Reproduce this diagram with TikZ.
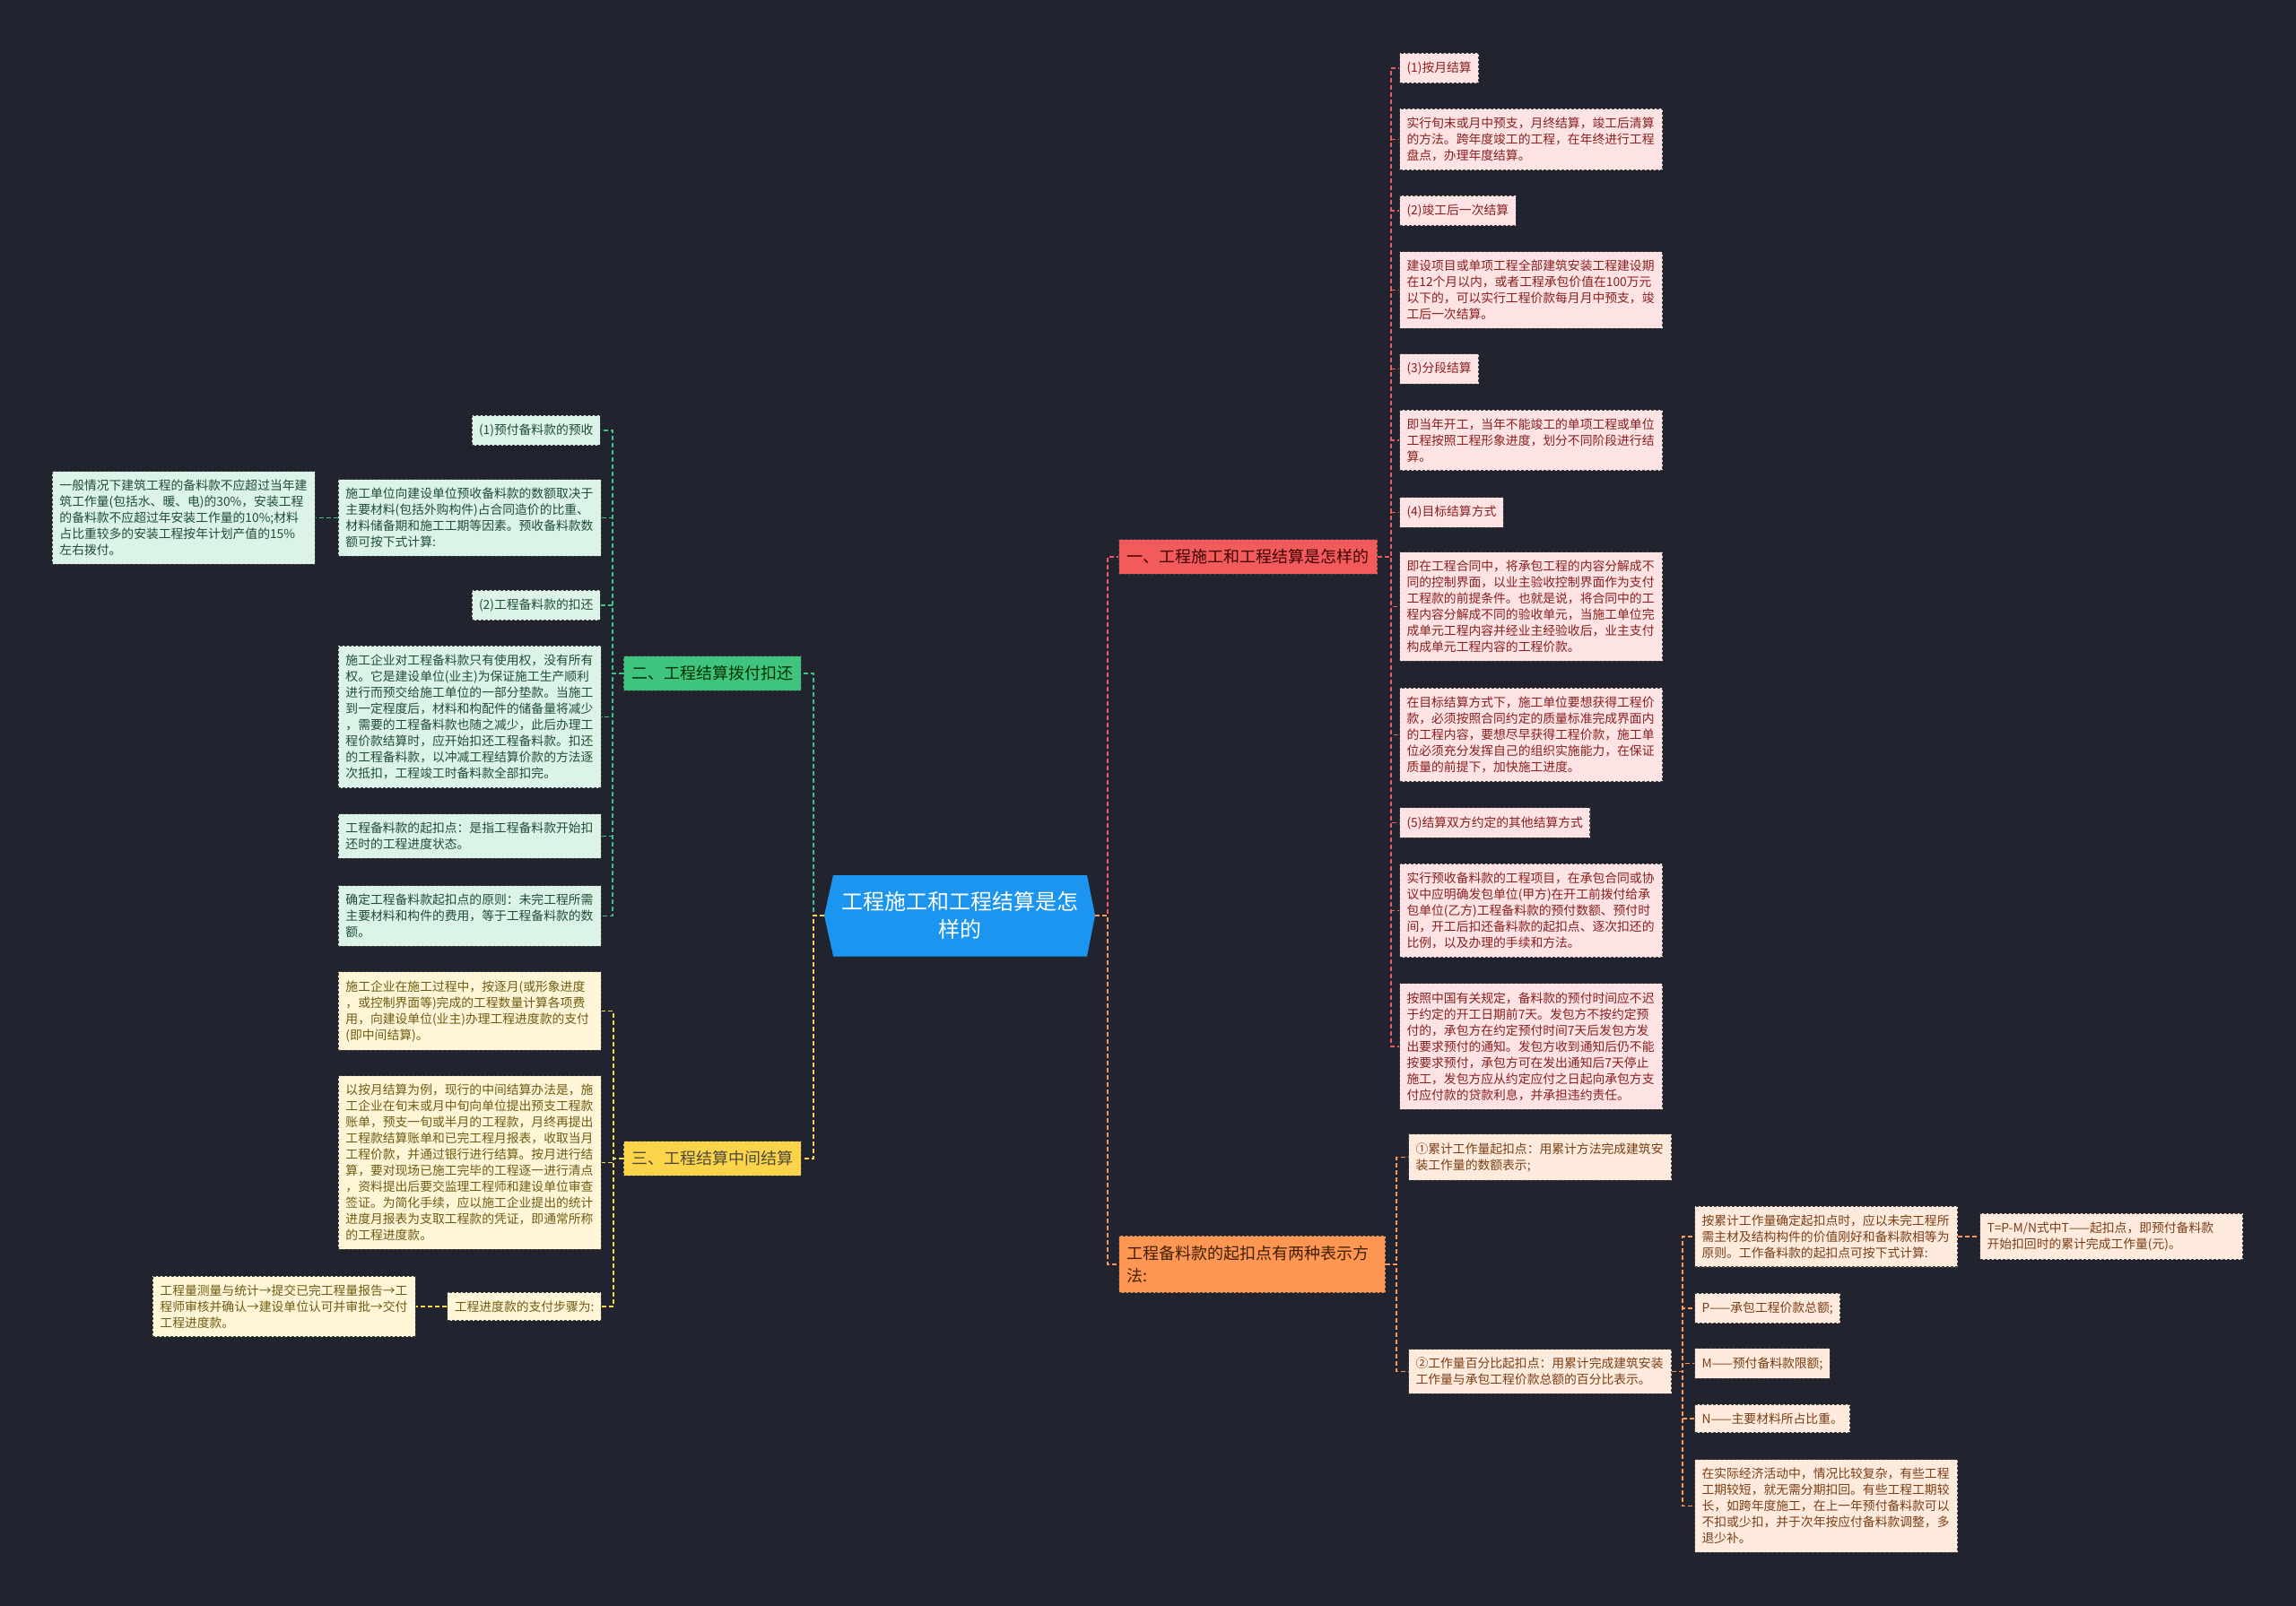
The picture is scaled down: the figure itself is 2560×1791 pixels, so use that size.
\documentclass[tikz,border=0pt]{standalone}
\usepackage{fontspec}
\setmainfont{Noto Sans CJK SC}
\definecolor{bg}{HTML}{21232F}
\definecolor{bluec}{HTML}{1B95EF}
\definecolor{redc}{HTML}{F25B5B}
\definecolor{greenc}{HTML}{3FC47F}
\definecolor{yellowc}{HTML}{FBD44A}
\definecolor{orangec}{HTML}{FE9654}
\definecolor{pinkfill}{HTML}{FDE3E3}
\definecolor{pinktext}{HTML}{8A1F1F}
\definecolor{greenfill}{HTML}{DCF4E8}
\definecolor{greentext}{HTML}{1F4D35}
\definecolor{yellowfill}{HTML}{FFF6D8}
\definecolor{yellowtext}{HTML}{6E5B12}
\definecolor{orangefill}{HTML}{FFEBDD}
\definecolor{orangetext}{HTML}{7A3E16}
\tikzset{
  conn/.style={line width=1.6pt, dash pattern=on 5pt off 3pt},
  rline/.style={conn, draw=redc},
  gline/.style={conn, draw=greenc},
  yline/.style={conn, draw=yellowc},
  oline/.style={conn, draw=orangec},
  nodeborder/.style={draw=black!75, dash pattern=on 3pt off 2pt, line width=1.1pt},
  leafbase/.style={nodeborder, inner xsep=8pt, inner ysep=9.5pt, font=\fontsize{13.8pt}{18pt}\selectfont, align=left},
  wideleaf/.style={text width=277pt},
  pinkleaf/.style={leafbase, fill=pinkfill, text=pinktext},
  greenleaf/.style={leafbase, fill=greenfill, text=greentext},
  yellowleaf/.style={leafbase, fill=yellowfill, text=yellowtext},
  orangeleaf/.style={leafbase, fill=orangefill, text=orangetext},
  branchbox/.style={nodeborder, inner xsep=9pt, inner ysep=11pt, font=\fontsize{18pt}{25pt}\selectfont, align=left},
  centernode/.style={minimum width=302pt, minimum height=90pt, inner sep=0pt, text=white, font=\fontsize{24pt}{31pt}\selectfont, align=center}
}
\begin{document}
\begin{tikzpicture}[x=1pt,y=-1pt]
\fill[bg] (0,0) rectangle (2560,1791);
\useasboundingbox (0,0) rectangle (2560,1791);

% centre
\fill[bluec] (929,976) -- (1212,976) -- (1221,1021) -- (1212,1066) -- (929,1066) -- (919,1021) -- cycle;
\draw[bluec!80!black, line width=1pt] (929,1066) -- (1212,1066);
\node[centernode] (c) at (1070,1021) {工程施工和工程结算是怎\\样的};

% spines
\coordinate (csR) at (1235,0);
\coordinate (csL) at (907,0);
\coordinate (rs) at (1551,0);
\coordinate (gs) at (683,0);
\coordinate (ys) at (684,0);
\coordinate (os) at (1557,0);
\coordinate (o2s) at (1876,0);

% branch nodes
\node[branchbox, fill=redc, text=red!25!black, anchor=west] (r) at (1247,621) {一、工程施工和工程结算是怎样的};
\node[branchbox, fill=greenc, text=green!20!black, anchor=east] (g) at (894,751) {二、工程结算拨付扣还};
\node[branchbox, fill=yellowc, text=yellow!20!black, anchor=east] (y) at (894,1292) {三、工程结算中间结算};
\node[branchbox, fill=orangec, text=orange!25!black, anchor=west, text width=279pt] (o) at (1247,1410) {工程备料款的起扣点有两种表示方\\法:};

% pink leaves
\node[pinkleaf, anchor=west] (p1) at (1560,76) {(1)按月结算};
\node[pinkleaf, wideleaf, anchor=west] (p2) at (1560,155.5) {实行旬末或月中预支，月终结算，竣工后清算\\的方法。跨年度竣工的工程，在年终进行工程\\盘点，办理年度结算。};
\node[pinkleaf, anchor=west] (p3) at (1560,235) {(2)竣工后一次结算};
\node[pinkleaf, wideleaf, anchor=west] (p4) at (1560,323.5) {建设项目或单项工程全部建筑安装工程建设期\\在12个月以内，或者工程承包价值在100万元\\以下的，可以实行工程价款每月月中预支，竣\\工后一次结算。};
\node[pinkleaf, anchor=west] (p5) at (1560,411.5) {(3)分段结算};
\node[pinkleaf, wideleaf, anchor=west] (p6) at (1560,491) {即当年开工，当年不能竣工的单项工程或单位\\工程按照工程形象进度，划分不同阶段进行结\\算。};
\node[pinkleaf, anchor=west] (p7) at (1560,571.5) {(4)目标结算方式};
\node[pinkleaf, wideleaf, anchor=west] (p8) at (1560,676.5) {即在工程合同中，将承包工程的内容分解成不\\同的控制界面，以业主验收控制界面作为支付\\工程款的前提条件。也就是说，将合同中的工\\程内容分解成不同的验收单元，当施工单位完\\成单元工程内容并经业主经验收后，业主支付\\构成单元工程内容的工程价款。};
\node[pinkleaf, wideleaf, anchor=west] (p9) at (1560,819.5) {在目标结算方式下，施工单位要想获得工程价\\款，必须按照合同约定的质量标准完成界面内\\的工程内容，要想尽早获得工程价款，施工单\\位必须充分发挥自己的组织实施能力，在保证\\质量的前提下，加快施工进度。};
\node[pinkleaf, anchor=west] (p10) at (1560,917.5) {(5)结算双方约定的其他结算方式};
\node[pinkleaf, wideleaf, anchor=west] (p11) at (1560,1015.5) {实行预收备料款的工程项目，在承包合同或协\\议中应明确发包单位(甲方)在开工前拨付给承\\包单位(乙方)工程备料款的预付数额、预付时\\间，开工后扣还备料款的起扣点、逐次扣还的\\比例，以及办理的手续和方法。};
\node[pinkleaf, wideleaf, anchor=west] (p12) at (1560,1167) {按照中国有关规定，备料款的预付时间应不迟\\于约定的开工日期前7天。发包方不按约定预\\付的，承包方在约定预付时间7天后发包方发\\出要求预付的通知。发包方收到通知后仍不能\\按要求预付，承包方可在发出通知后7天停止\\施工，发包方应从约定应付之日起向承包方支\\付应付款的贷款利息，并承担违约责任。};

% green leaves
\node[greenleaf, anchor=east] (g1) at (670,480) {(1)预付备料款的预收};
\node[greenleaf, wideleaf, anchor=east] (g2) at (671,577.5) {施工单位向建设单位预收备料款的数额取决于\\主要材料(包括外购构件)占合同造价的比重、\\材料储备期和施工工期等因素。预收备料款数\\额可按下式计算:};
\node[greenleaf, wideleaf, anchor=east] (g2a) at (352,577.5) {一般情况下建筑工程的备料款不应超过当年建\\筑工作量(包括水、暖、电)的30\%，安装工程\\的备料款不应超过年安装工作量的10\%;材料\\占比重较多的安装工程按年计划产值的15\%\\左右拨付。};
\node[greenleaf, anchor=east] (g3) at (670,675) {(2)工程备料款的扣还};
\node[greenleaf, wideleaf, anchor=east] (g4) at (671,799.5) {施工企业对工程备料款只有使用权，没有所有\\权。它是建设单位(业主)为保证施工生产顺利\\进行而预交给施工单位的一部分垫款。当施工\\到一定程度后，材料和构配件的储备量将减少\\，需要的工程备料款也随之减少，此后办理工\\程价款结算时，应开始扣还工程备料款。扣还\\的工程备料款，以冲减工程结算价款的方法逐\\次抵扣，工程竣工时备料款全部扣完。};
\node[greenleaf, wideleaf, anchor=east] (g5) at (671,932.5) {工程备料款的起扣点：是指工程备料款开始扣\\还时的工程进度状态。};
\node[greenleaf, wideleaf, anchor=east] (g6) at (671,1021.5) {确定工程备料款起扣点的原则：未完工程所需\\主要材料和构件的费用，等于工程备料款的数\\额。};

% yellow leaves
\node[yellowleaf, wideleaf, anchor=east] (y1) at (671,1127.5) {施工企业在施工过程中，按逐月(或形象进度\\，或控制界面等)完成的工程数量计算各项费\\用，向建设单位(业主)办理工程进度款的支付\\(即中间结算)。};
\node[yellowleaf, wideleaf, anchor=east] (y2) at (671,1296.5) {以按月结算为例，现行的中间结算办法是，施\\工企业在旬末或月中旬向单位提出预支工程款\\账单，预支一旬或半月的工程款，月终再提出\\工程款结算账单和已完工程月报表，收取当月\\工程价款，并通过银行进行结算。按月进行结\\算，要对现场已施工完毕的工程逐一进行清点\\，资料提出后要交监理工程师和建设单位审查\\签证。为简化手续，应以施工企业提出的统计\\进度月报表为支取工程款的凭证，即通常所称\\的工程进度款。};
\node[yellowleaf, anchor=east] (y3) at (671,1457) {工程进度款的支付步骤为:};
\node[yellowleaf, wideleaf, anchor=east] (y3a) at (464,1457) {工程量测量与统计→提交已完工程量报告→工\\程师审核并确认→建设单位认可并审批→交付\\工程进度款。};

% orange leaves
\node[orangeleaf, wideleaf, anchor=west] (o1) at (1570,1290.5) {①累计工作量起扣点：用累计方法完成建筑安\\装工作量的数额表示;};
\node[orangeleaf, wideleaf, anchor=west] (o2) at (1570,1529.5) {②工作量百分比起扣点：用累计完成建筑安装\\工作量与承包工程价款总额的百分比表示。};
\node[orangeleaf, wideleaf, anchor=west] (o2a) at (1889,1379) {按累计工作量确定起扣点时，应以未完工程所\\需主材及结构构件的价值刚好和备料款相等为\\原则。工作备料款的起扣点可按下式计算:};
\node[orangeleaf, wideleaf, anchor=west] (o2a1) at (2207,1379) {T=P-M/N式中T——起扣点，即预付备料款\\开始扣回时的累计完成工作量(元)。};
\node[orangeleaf, anchor=west] (o2b) at (1889,1459) {P——承包工程价款总额;};
\node[orangeleaf, anchor=west] (o2c) at (1889,1520.5) {M——预付备料款限额;};
\node[orangeleaf, anchor=west] (o2d) at (1889,1582) {N——主要材料所占比重。};
\node[orangeleaf, wideleaf, anchor=west] (o2e) at (1889,1679.5) {在实际经济活动中，情况比较复杂，有些工程\\工期较短，就无需分期扣回。有些工程工期较\\长，如跨年度施工，在上一年预付备料款可以\\不扣或少扣，并于次年按应付备料款调整，多\\退少补。};

% connectors: centre to branches
\draw[rline] (c.east) -- (c.east -| csR) |- (r.west);
\draw[oline] (c.east) -- (c.east -| csR) |- (o.west);
\draw[gline] (c.west) -- (c.west -| csL) |- (g.east);
\draw[yline] (c.west) -- (c.west -| csL) |- (y.east);

% red branch
\foreach \i in {1,...,12} \draw[rline] (r.east) -- (r.east -| rs) |- (p\i.west);
% green branch
\foreach \n in {g1,g2,g3,g4,g5,g6} \draw[gline] (g.west) -- (g.west -| gs) |- (\n.east);
\draw[gline] (g2.west) -- (g2a.east);
% yellow branch
\foreach \n in {y1,y2,y3} \draw[yline] (y.west) -- (y.west -| ys) |- (\n.east);
\draw[yline] (y3.west) -- (y3a.east);
% orange branch
\foreach \n in {o1,o2} \draw[oline] (o.east) -- (o.east -| os) |- (\n.west);
\foreach \n in {o2a,o2b,o2c,o2d,o2e} \draw[oline] (o2.east) -- (o2.east -| o2s) |- (\n.west);
\draw[oline] (o2a.east) -- (o2a1.west);
\end{tikzpicture}
\end{document}
